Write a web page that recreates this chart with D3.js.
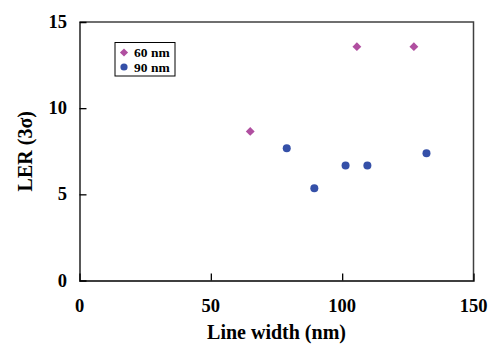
<!DOCTYPE html>
<html><head><meta charset="utf-8">
<script src="https://cdn.jsdelivr.net/npm/d3@7"></script>
<style>body{margin:0;background:#fff}svg{display:block}text{font-family:"Liberation Serif","Times New Roman",serif;font-weight:bold}</style>
</head><body>
<script>
const seriesNames = ["60 nm", "90 nm"];
const x60 = [65, 105.6, 127.3];
const y60 = [8.65, 13.57, 13.57];
const x90 = [78.9, 89.4, 101.3, 109.6, 132.1];
const y90 = [7.68, 5.36, 6.67, 6.67, 7.39];
const xTicks = [0, 50, 100, 150];
const yTicks = [0, 5, 10, 15];
const colors = ["#b04fa0", "#3550a8"];

const W = 496, H = 345;
const svg = d3.select("body").append("svg").attr("width", W).attr("height", H);
const x = d3.scaleLinear().domain([0, 150]).range([79.5, 473.5]);
const y = d3.scaleLinear().domain([0, 15]).range([280.5, 22]);

// frame top/right
svg.append("path").attr("d", `M${x(0)},${y(15)}H${x(150)}V${y(0)}`).attr("fill","none").attr("stroke","#404040").attr("stroke-width",1.5);

const xAxis = svg.append("g").attr("transform", `translate(0,${y(0)})`)
  .call(d3.axisTop(x).tickValues(xTicks).tickSize(7).tickFormat(""));
const yAxis = svg.append("g").attr("transform", `translate(${x(0)},0)`)
  .call(d3.axisRight(y).tickValues(yTicks).tickSize(7).tickFormat(""));
[xAxis, yAxis].forEach(g => { g.selectAll("path,line").attr("stroke","#000").attr("stroke-width",1.3); });
xAxis.selectAll(".tick").filter(d => d === 0 || d === 150).remove();
yAxis.selectAll(".tick").filter(d => d === 0 || d === 15).remove();

svg.append("g").selectAll("text").data(xTicks).join("text")
  .attr("x", d => x(d)).attr("y", 312).attr("text-anchor","middle").attr("font-size",18.5).text(d => d);
svg.append("g").selectAll("text").data(yTicks).join("text")
  .attr("x", 67).attr("y", d => y(d) + 6).attr("text-anchor","end").attr("font-size",18.5).text(d => d);

svg.append("text").attr("x", x(75)).attr("y", 339).attr("text-anchor","middle").attr("font-size",20).text("Line width (nm)");
svg.append("text").attr("transform", `translate(32,${(y(0)+y(15))/2}) rotate(-90)`).attr("text-anchor","middle").attr("font-size",20).text("LER (3σ)");

const diamond = d3.symbol().type(d3.symbolDiamond2).size(50);
svg.append("g").selectAll("path").data(x60.map((v,i)=>[v,y60[i]])).join("path")
  .attr("d", diamond).attr("transform", d => `translate(${x(d[0])},${y(d[1])})`).attr("fill", colors[0]);
svg.append("g").selectAll("circle").data(x90.map((v,i)=>[v,y90[i]])).join("circle")
  .attr("cx", d => x(d[0])).attr("cy", d => y(d[1])).attr("r", 4).attr("fill", colors[1]);

// legend
const lg = svg.append("g");
lg.append("rect").attr("x",115).attr("y",42.5).attr("width",60).attr("height",33.5).attr("fill","#fff").attr("stroke","#000").attr("stroke-width",1);
lg.append("path").attr("d", d3.symbol().type(d3.symbolDiamond2).size(42)).attr("transform","translate(124,52.5)").attr("fill",colors[0]);
lg.append("circle").attr("cx",124).attr("cy",67).attr("r",3.6).attr("fill",colors[1]);
lg.selectAll("text").data(seriesNames).join("text").attr("x",134).attr("y",(d,i)=>57+i*14.5).attr("font-size",13.5).text(d=>d);
</script>
</body></html>
